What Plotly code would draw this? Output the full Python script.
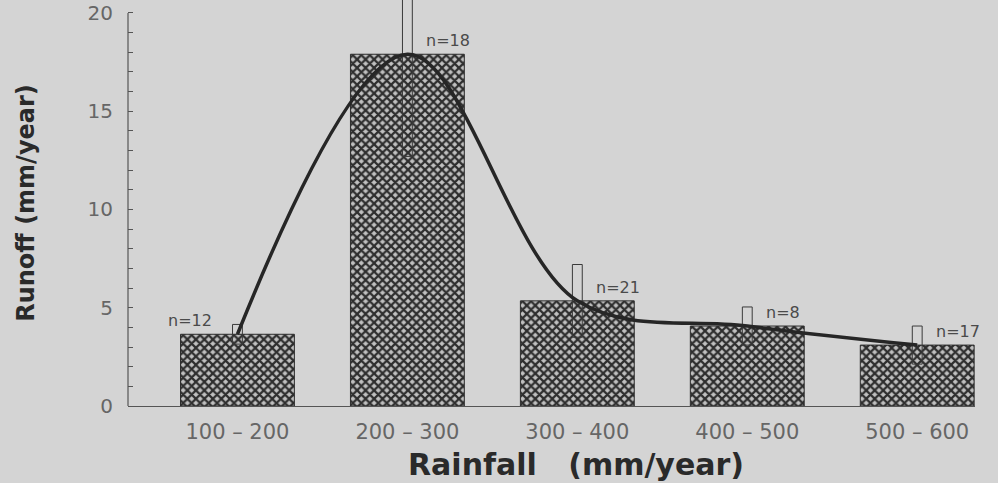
import plotly.graph_objects as go

categories = ["100-200", "200-300", "300-400", "400-500", "500-600"]
tick_text = ["100\u00a0–\u00a0200", "200\u00a0–\u00a0300", "300\u00a0–\u00a0400",
             "400\u00a0–\u00a0500", "500\u00a0–\u00a0600"]
runoff_mean = [3.65, 17.9, 5.35, 4.07, 3.1]
runoff_sd = [0.5, 5.2, 1.85, 0.97, 0.97]
sample_n = [12, 18, 21, 8, 17]
y_ticks = [0, 5, 10, 15, 20]

xpos = list(range(len(categories)))
BG = "#d4d4d4"
INK = "#2e2e2e"
TXT = "#666666"

fig = go.Figure()

fig.add_trace(go.Bar(
    x=xpos, y=runoff_mean, width=0.67,
    marker=dict(color=BG, line=dict(color=INK, width=1),
                pattern=dict(shape="x", size=6, solidity=0.6,
                             fgcolor=INK, bgcolor="#c0c0c0", fillmode="replace")),
    showlegend=False, hoverinfo="skip"))

fig.add_trace(go.Scatter(
    x=xpos, y=runoff_mean, mode="lines",
    line=dict(color="#262626", width=3.5, shape="spline", smoothing=1.0),
    showlegend=False, hoverinfo="skip"))

fig.add_trace(go.Bar(
    x=xpos, y=[2 * s for s in runoff_sd],
    base=[m - s for m, s in zip(runoff_mean, runoff_sd)],
    width=0.058,
    marker=dict(color="rgba(0,0,0,0)", line=dict(color="#3a3a3a", width=1)),
    showlegend=False, hoverinfo="skip"))

for i, (m, n) in enumerate(zip(runoff_mean, sample_n)):
    left = i == 0
    fig.add_annotation(
        x=i + (-0.14 if left else 0.1), y=m + 0.7,
        text=f"n={n}", showarrow=False,
        xanchor="right" if left else "left", yanchor="middle",
        font=dict(family="DejaVu Sans", size=16, color="#4a4a4a"))

# x-axis title (placed slightly right of centre, as in the original)
fig.add_annotation(
    xref="paper", yref="paper", x=0.529, y=-0.145,
    text="Rainfall\u00a0\u00a0\u00a0(mm/year)", showarrow=False,
    xanchor="center", yanchor="middle",
    font=dict(family="DejaVu Sans", size=30, color="#2a2a2a", weight="bold"))

# y axis line from bottom to top tick
fig.add_shape(type="line", xref="paper", yref="y",
              x0=0, x1=0, y0=min(y_ticks), y1=max(y_ticks),
              line=dict(color="#555", width=1.2))

fig.update_layout(
    width=998, height=483,
    margin=dict(l=128, r=23, t=0, b=77),
    paper_bgcolor=BG, plot_bgcolor=BG,
    barmode="overlay",
    font=dict(family="DejaVu Sans", color=TXT),
    xaxis=dict(
        range=[-0.644, 4.34],
        tickvals=xpos, ticktext=tick_text,
        showline=True, linecolor="#555", linewidth=1.2,
        ticks="", showgrid=False, zeroline=False,
        tickfont=dict(family="DejaVu Sans", size=21, color=TXT),
        ticklabelstandoff=7,
    ),
    yaxis=dict(
        range=[0, 20.66],
        tickvals=y_ticks,
        ticks="inside", ticklen=5, tickcolor="#555", tickwidth=1,
        minor=dict(dtick=1, ticks="inside", ticklen=5, tickcolor="#555", tickwidth=1),
        showline=False, showgrid=False, zeroline=False,
        tickfont=dict(family="DejaVu Sans", size=20, color=TXT),
        ticklabelstandoff=14,
        title=dict(text="Runoff (mm/year)", standoff=46,
                   font=dict(family="DejaVu Sans", size=24, color="#2a2a2a", weight="bold")),
    ),
)

fig.write_html("out.html", config={"displayModeBar": False},
               post_script="document.body.style.margin='0';document.body.style.overflow='hidden';")
